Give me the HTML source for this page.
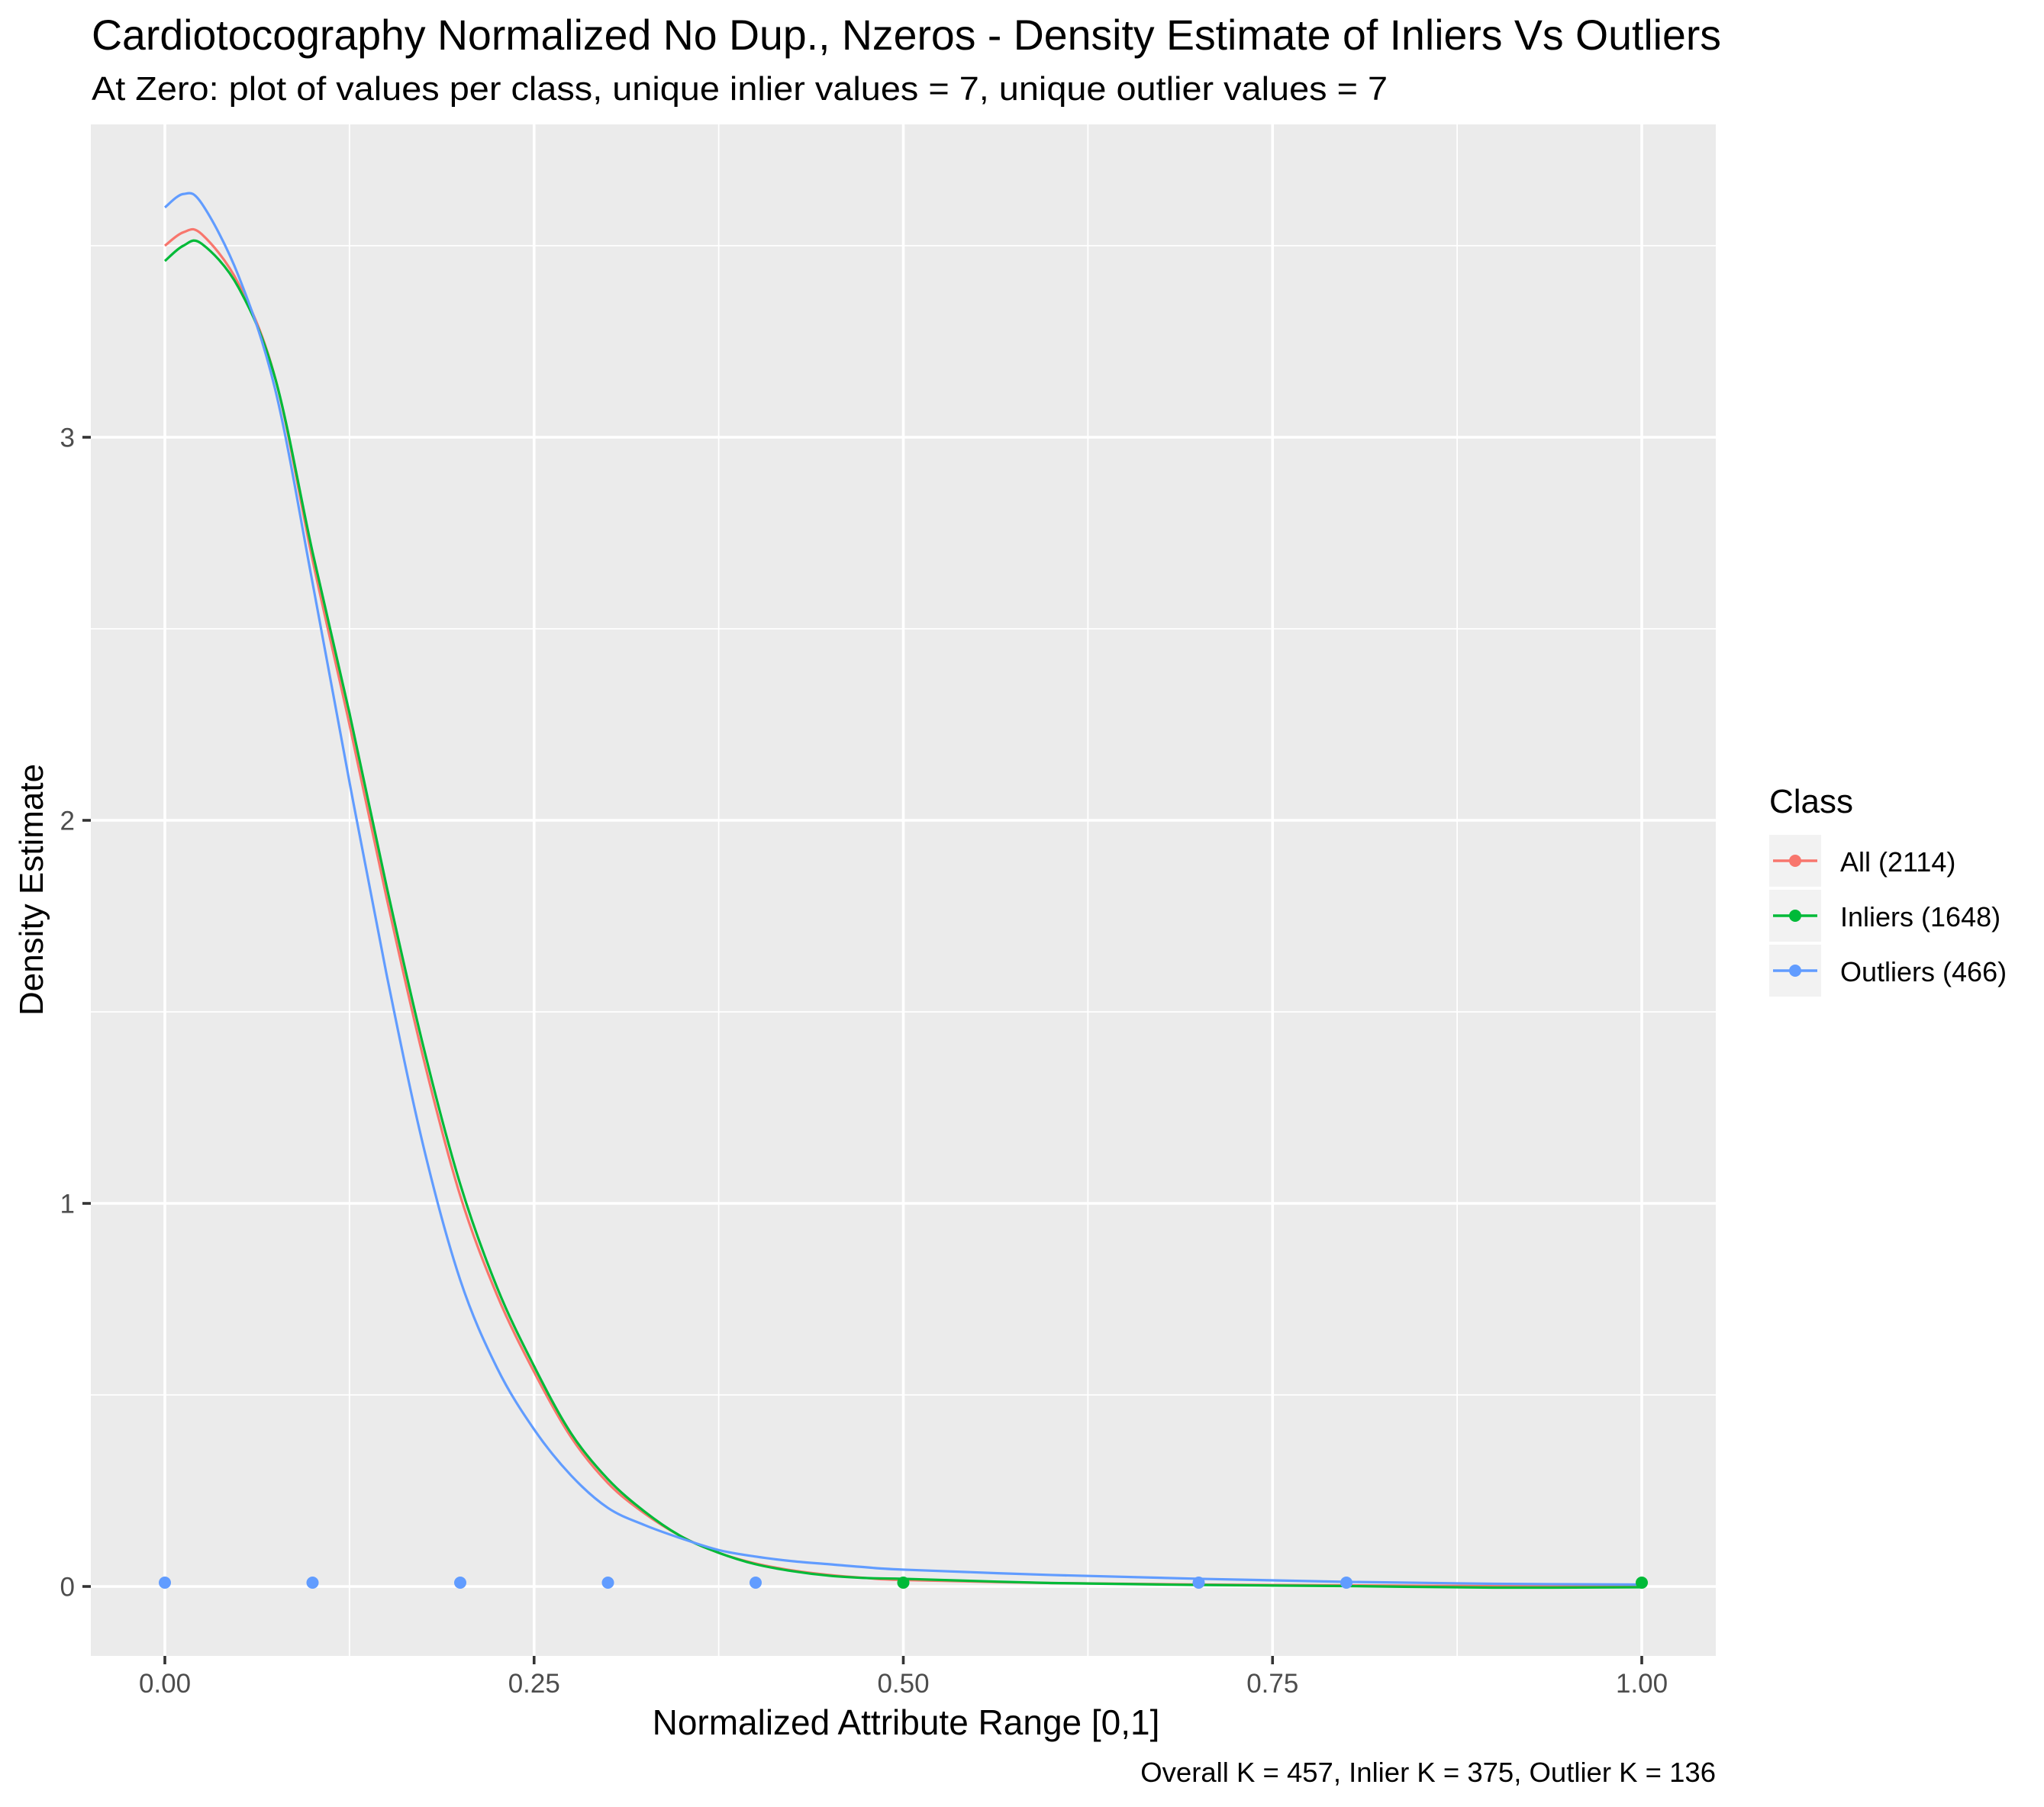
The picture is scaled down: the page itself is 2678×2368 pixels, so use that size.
<!DOCTYPE html>
<html><head><meta charset="utf-8"><style>
html,body{margin:0;padding:0;background:#fff;}
svg{display:block;font-family:"Liberation Sans",Arial,sans-serif;}
</style></head><body>
<svg id="chart" width="2678" height="2368" viewBox="0 0 2678 2368" xmlns="http://www.w3.org/2000/svg">
<rect x="0" y="0" width="2678" height="2368" fill="#fff"/>
<text x="120" y="65" font-size="56" fill="#000" textLength="2135" lengthAdjust="spacingAndGlyphs">Cardiotocography Normalized No Dup., Nzeros - Density Estimate of Inliers Vs Outliers</text>
<text x="120" y="131" font-size="44" fill="#000" textLength="1698" lengthAdjust="spacingAndGlyphs">At Zero: plot of values per class, unique inlier values = 7, unique outlier values = 7</text>
<rect x="119" y="163" width="2129" height="2007" fill="#ebebeb"/>
<g id="grid"></g>
<g id="series"></g>
<g id="axes"></g>
<text x="1187" y="2273" font-size="46" text-anchor="middle" fill="#000">Normalized Attribute Range [0,1]</text>
<text transform="translate(56,1166) rotate(-90)" font-size="44" text-anchor="middle" fill="#000">Density Estimate</text>
<text x="2248" y="2335" font-size="36.5" text-anchor="end" fill="#000">Overall K = 457, Inlier K = 375, Outlier K = 136</text>
<g id="legend">
<text x="2318" y="1065" font-size="44" fill="#000">Class</text>
</g>
</svg>
<script>
// data arrays
const xs = [0,0.0125,0.025,0.05,0.075,0.1,0.125,0.15,0.175,0.2,0.225,0.25,0.275,0.3,0.325,0.35,0.375,0.4,0.425,0.45,0.475,0.5,0.6,0.7,0.8,0.9,1.0];
const allVals = [3.50,3.535,3.53,3.40,3.15,2.68,2.25,1.80,1.38,1.02,0.76,0.56,0.39,0.27,0.19,0.13,0.088,0.06,0.042,0.03,0.022,0.017,0.009,0.005,0.003,0.001,0.0];
const inlierVals = [3.46,3.50,3.505,3.39,3.15,2.70,2.28,1.83,1.41,1.05,0.78,0.575,0.40,0.28,0.195,0.13,0.088,0.058,0.04,0.028,0.022,0.02,0.009,0.004,0.001,-0.003,-0.002];
const outlierVals = [3.60,3.635,3.61,3.42,3.12,2.62,2.10,1.60,1.15,0.80,0.57,0.41,0.29,0.205,0.16,0.125,0.095,0.078,0.066,0.058,0.05,0.044,0.03,0.02,0.012,0.007,0.005];
const inlierPts = [0.5,1.0];
const outlierPts = [0,0.1,0.2,0.3,0.4,0.7,0.8];
const ptLevel = 0.01;
const xTicks = [0,0.25,0.5,0.75,1.0];
const xTickLabels = ["0.00","0.25","0.50","0.75","1.00"];
const yTicks = [0,1,2,3];
const yTickLabels = ["0","1","2","3"];
const legendLabels = ["All (2114)","Inliers (1648)","Outliers (466)"];

const NS="http://www.w3.org/2000/svg";
const X0=216, XU=1935, Y0=2079, YU=502, PL=119, PR=2248, PT=163, PB=2170;
const sx=v=>X0+v*XU, sy=v=>Y0-v*YU;
const colors=["#F8766D","#00BA38","#619CFF"];
function mk(tag,attrs,parent){const e=document.createElementNS(NS,tag);for(const k in attrs)e.setAttribute(k,attrs[k]);parent.appendChild(e);return e;}
const grid=document.getElementById('grid'), axes=document.getElementById('axes'), series=document.getElementById('series'), legend=document.getElementById('legend');

[0.125,0.375,0.625,0.875].forEach(v=>{const l=mk('line',{x1:sx(v),x2:sx(v),y1:PT,y2:PB,stroke:'#fff','stroke-width':1.8},grid);

});
[0.5,1.5,2.5,3.5].forEach(v=>{const l=mk('line',{x1:PL,x2:PR,y1:sy(v),y2:sy(v),stroke:'#fff','stroke-width':1.8},grid);

});
xTicks.forEach((v,i)=>{const l=mk('line',{x1:sx(v),x2:sx(v),y1:PT,y2:PB,stroke:'#fff','stroke-width':3.6},grid);


const t=mk('line',{x1:sx(v),x2:sx(v),y1:PB,y2:PB+11,stroke:'#333','stroke-width':3.6},axes);


const tx=mk('text',{x:sx(v),y:2218,'font-size':35,'text-anchor':'middle',fill:'#4d4d4d'},axes);tx.textContent=xTickLabels[i];

});
yTicks.forEach((v,i)=>{const l=mk('line',{x1:PL,x2:PR,y1:sy(v),y2:sy(v),stroke:'#fff','stroke-width':3.6},grid);


const t=mk('line',{x1:PL-11,x2:PL,y1:sy(v),y2:sy(v),stroke:'#333','stroke-width':3.6},axes);


const tx=mk('text',{x:98,y:sy(v)+12.5,'font-size':35,'text-anchor':'end',fill:'#4d4d4d'},axes);tx.textContent=yTickLabels[i];

});

function pathFor(vals){
  const p=xs.map((x,i)=>[sx(x),sy(vals[i])]);
  let d=`M${p[0][0]},${p[0][1]}`;
  for(let i=0;i<p.length-1;i++){
    const a=p[i-1]||p[i], b=p[i], c=p[i+1], e=p[i+2]||c;
    const c1=[b[0]+(c[0]-a[0])/6,b[1]+(c[1]-a[1])/6], c2=[c[0]-(e[0]-b[0])/6,c[1]-(e[1]-b[1])/6];
    d+=` C${c1[0]},${c1[1]} ${c2[0]},${c2[1]} ${c[0]},${c[1]}`;
  }
  return d;
}
const names=['all','inliers','outliers'];
[allVals,inlierVals,outlierVals].forEach((vals,k)=>{
  const p=mk('path',{d:pathFor(vals),fill:'none',stroke:colors[k],'stroke-width':3.2},series);
  
  
});
outlierPts.forEach(v=>{const c=mk('circle',{cx:sx(v),cy:sy(ptLevel),r:8,fill:colors[2]},series);

});
inlierPts.forEach(v=>{const c=mk('circle',{cx:sx(v),cy:sy(ptLevel),r:8,fill:colors[1]},series);

});

legendLabels.forEach((lab,i)=>{
  const top=1094+i*72, cy=top+34;
  const g=mk('g',{},legend);
  
  
  mk('rect',{x:2318,y:top,width:68,height:68,fill:'#f2f2f2'},g);
  mk('line',{x1:2323,x2:2381,y1:cy,y2:cy,stroke:colors[i],'stroke-width':3.6},g);
  mk('circle',{cx:2352,cy:cy,r:8,fill:colors[i]},g);
  const t=mk('text',{x:2411,y:cy+14,'font-size':36,fill:'#000'},g);t.textContent=lab;
  
  
});
</script>
</body></html>
